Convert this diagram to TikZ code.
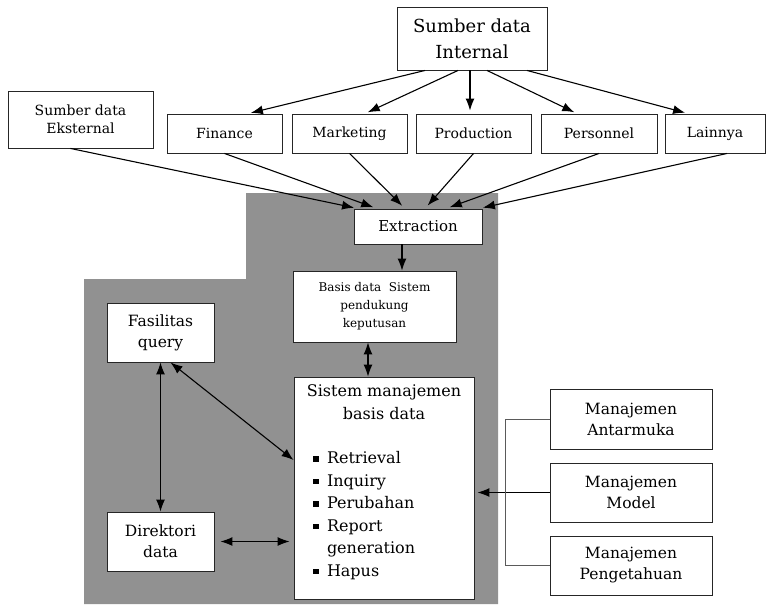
\documentclass[tikz,border=0pt]{standalone}
\usepackage{fontspec}
\setmainfont{DejaVu Serif}
\usepackage{tikz}
\usetikzlibrary{arrows.meta,positioning}
\definecolor{panelgray}{RGB}{145,145,145}
\definecolor{linegray}{RGB}{90,90,90}
\newcommand{\smbditem}[1]{\hspace*{15pt}\makebox[14pt][l]{\rule[2pt]{5.5pt}{5.5pt}}#1}

\begin{document}
\begin{tikzpicture}[x=1pt,y=-1pt]
	\tikzset{box/.style={draw=black!85,fill=white,line width=0.9pt,inner sep=2pt,align=center,font=\fontsize{14}{18}\selectfont},
		>={Latex[length=12pt,width=9pt]}}
	\useasboundingbox (0,0) rectangle (770,613);
	\fill[panelgray] (246,193) -- (498,193) -- (498,604) -- (84,604) -- (84,279) -- (246,279) -- cycle;
	\node[box,minimum width=150pt,minimum height=63pt,font=\fontsize{18}{26}\selectfont] (int) at (472,38.5) {Sumber data\\Internal};
	\node[box,minimum width=145pt,minimum height=57pt] (eks) at (80.5,119.5) {Sumber data\\Eksternal};
	\node[box,minimum width=115pt,minimum height=39pt] (fin) at (224.5,133.5) {Finance};
	\node[box,minimum width=115pt,minimum height=39pt] (mkt) at (349.5,133.5) {Marketing};
	\node[box,minimum width=115pt,minimum height=39pt] (prod) at (473.5,133.5) {Production};
	\node[box,minimum width=116pt,minimum height=39pt] (pers) at (599,133.5) {Personnel};
	\node[box,minimum width=100pt,minimum height=39pt] (lain) at (715,133.5) {Lainnya};
	\node[box,minimum width=128pt,minimum height=35pt,font=\fontsize{15}{18}\selectfont] (extr) at (418,226.5) {Extraction};
	\node[box,minimum width=163pt,minimum height=71pt,font=\fontsize{12}{18}\selectfont] (bdss) at (374.5,306.5) {Basis data~ Sistem\\pendukung\\keputusan};
	\node[box,minimum width=107pt,minimum height=59pt,font=\fontsize{15.5}{21}\selectfont] (fq) at (160.5,332.5) {Fasilitas\\query};
	\node[box,minimum width=107pt,minimum height=59pt,font=\fontsize{15.5}{21}\selectfont] (dir) at (160.5,541.5) {Direktori\\data};
	\node[box,inner sep=4pt,font=\fontsize{16}{22.5}\selectfont] (smbd) at (384,488) {\parbox[c][214pt][t]{172pt}{\vspace*{4pt}\centering Sistem manajemen\\basis data\par\vspace{22pt}\raggedright
		\smbditem{Retrieval}\\
		\smbditem{Inquiry}\\
		\smbditem{Perubahan}\\
		\smbditem{Report}\\
		\hspace*{29pt}generation\\
		\smbditem{Hapus}}};
	\node[box,minimum width=162pt,minimum height=60pt,font=\fontsize{15.5}{21}\selectfont] (ant) at (631,419) {Manajemen\\Antarmuka};
	\node[box,minimum width=162pt,minimum height=59pt,font=\fontsize{15.5}{21}\selectfont] (mod) at (631,492.5) {Manajemen\\Model};
	\node[box,minimum width=162pt,minimum height=59pt,font=\fontsize{15.5}{21}\selectfont] (peng) at (631,565.5) {Manajemen\\Pengetahuan};
	% internal sources
	\path[->,line width=1.1pt,shorten >=3pt]
		([xshift=-47pt]int.south) edge ([xshift=23.5pt]fin.north)
		([xshift=-14pt]int.south) edge ([xshift=15.5pt]mkt.north)
		([xshift=-2pt]int.south) edge ([xshift=-3.5pt]prod.north)
		([xshift=15pt]int.south) edge ([xshift=-22pt]pers.north)
		([xshift=55pt]int.south) edge ([xshift=-27pt]lain.north);
	% into extraction
	\path[->,line width=1.1pt,shorten >=4pt]
		([xshift=-10pt]eks.south) edge ([xshift=-60pt]extr.north)
		(fin.south) edge ([xshift=-41pt]extr.north)
		(mkt.south) edge ([xshift=-13pt]extr.north)
		(prod.south) edge ([xshift=7pt]extr.north)
		(pers.south) edge ([xshift=28pt]extr.north)
		([xshift=12pt]lain.south) edge ([xshift=61pt]extr.north);
	\draw[->,line width=1.1pt] ([xshift=-16pt]extr.south) -- ([xshift=27.5pt]bdss.north);
	\draw[<->,line width=1.1pt] ([xshift=-6.5pt]bdss.south) -- ([xshift=-16pt]smbd.north);
	\draw[<->,line width=1.1pt] (fq.south) -- (dir.north);
	\draw[<->,line width=1.1pt] ([xshift=10pt]fq.south) -- ([yshift=28pt]smbd.west);
	\draw[<->,line width=1.1pt,shorten <=6pt,shorten >=4pt] (dir.east) -- (dir.east -| smbd.west);
	\draw[->,line width=1.1pt,shorten >=3pt] (mod.west) -- (mod.west -| smbd.east);
	\draw[linegray,line width=0.8pt] (ant.west) -- ++(-44pt,0) |- (peng.west);
\end{tikzpicture}
\end{document}
